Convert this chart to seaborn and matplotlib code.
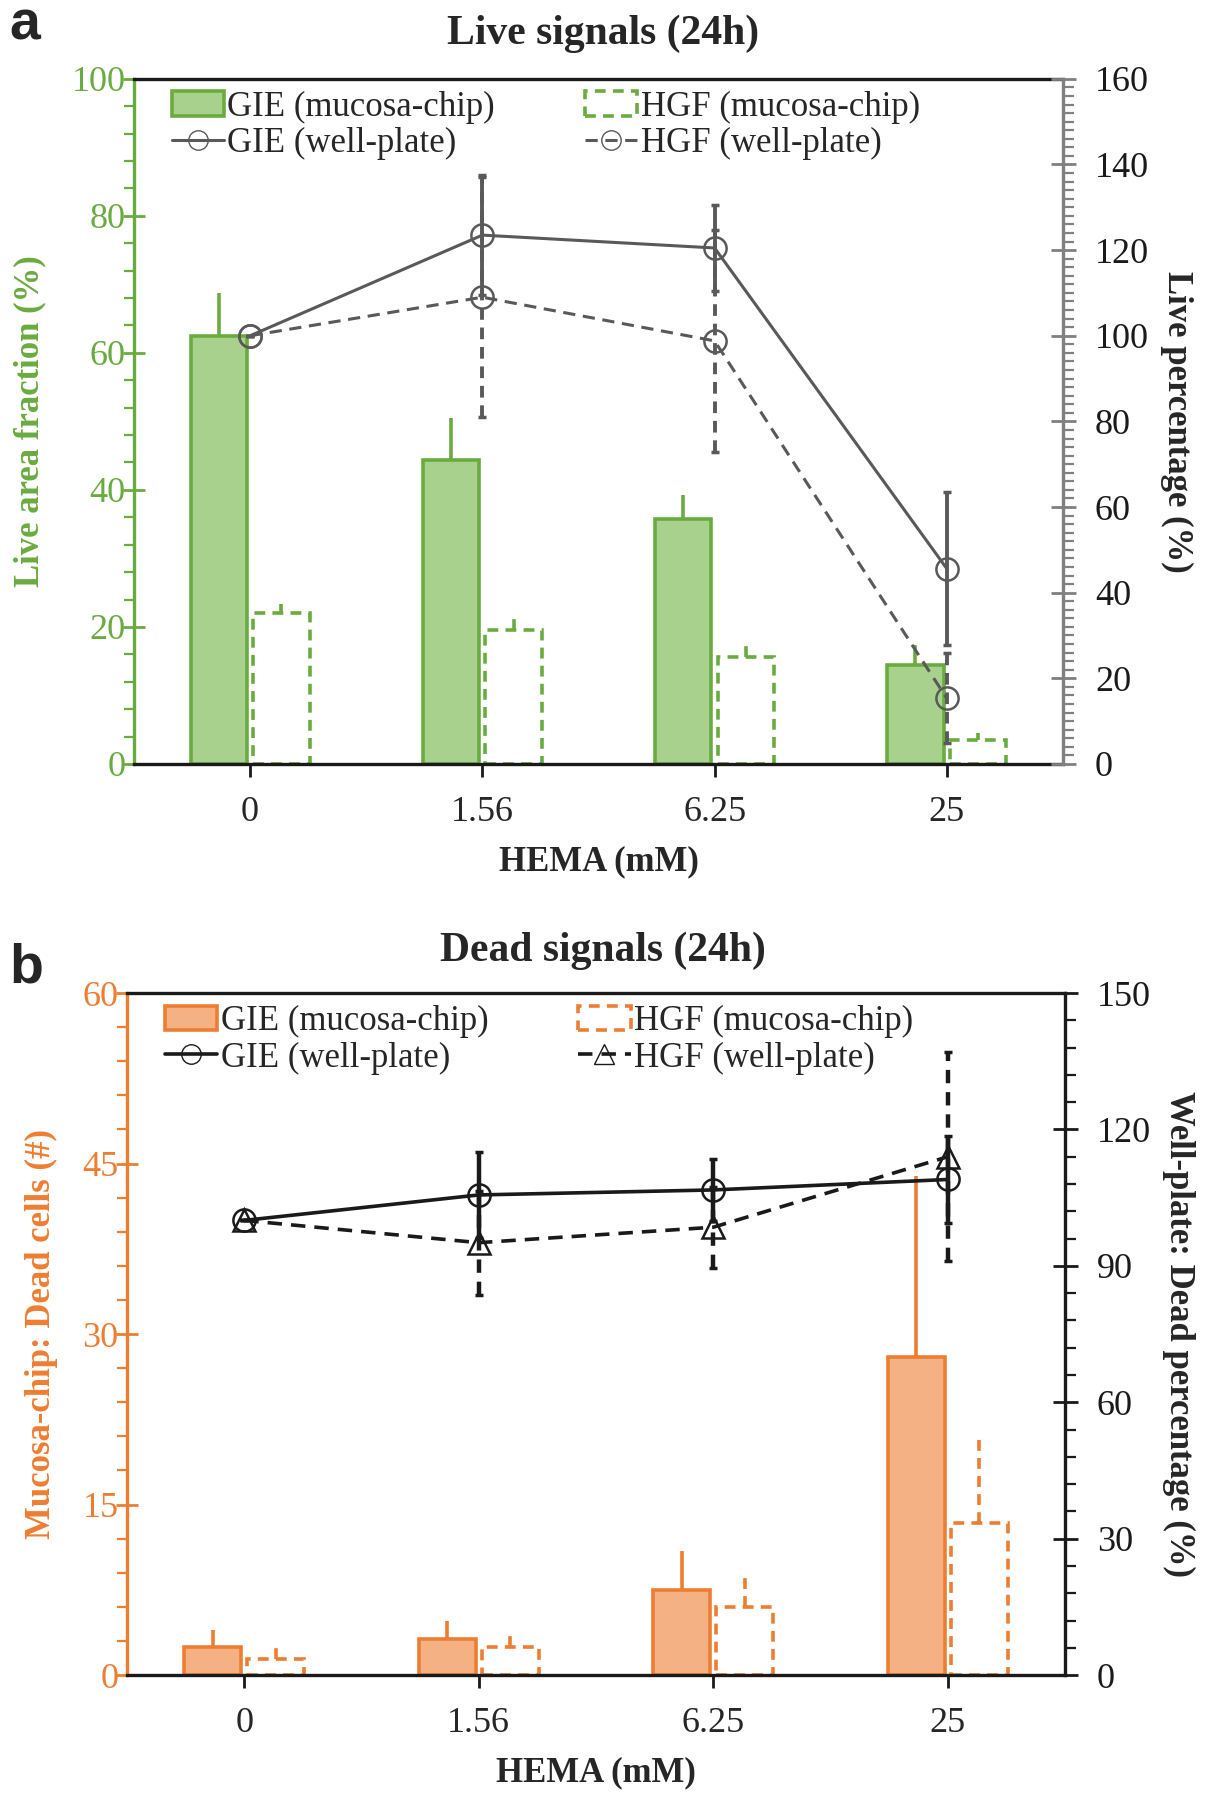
import numpy as np
import pandas as pd
import matplotlib
matplotlib.use("Agg")
import matplotlib.pyplot as plt
import matplotlib.patches as mpatches
from matplotlib.lines import Line2D
from matplotlib.ticker import MultipleLocator
import seaborn as sns

# data
conc = ["0", "1.56", "6.25", "25"]
cells = ["GIE", "HGF"]

# panel a: live signals
live_gie_chip = [62.4, 44.4, 35.7, 14.4]
live_gie_chip_err = [6.4, 6.1, 3.5, 3.0]
live_hgf_chip = [22.0, 19.5, 15.6, 3.5]
live_hgf_chip_err = [1.3, 1.6, 1.8, 1.0]
live_gie_well = [100, 123.5, 120.5, 45.6]
live_gie_well_err = [0, 14, 10, 17.8]
live_hgf_well = [100, 109, 98.8, 15.3]
live_hgf_well_err = [0, 28, 26, 10.5]

# panel b: dead signals
dead_gie_chip = [2.5, 3.2, 7.5, 28.0]
dead_gie_chip_err = [1.5, 1.6, 3.4, 15.9]
dead_hgf_chip = [1.45, 2.5, 6.0, 13.4]
dead_hgf_chip_err = [1.15, 1.2, 2.9, 7.6]
dead_gie_well = [100, 105.6, 106.7, 109.0]
dead_gie_well_err = [0, 9.5, 6.8, 9.5]
dead_hgf_well = [100, 95.1, 98.5, 114.0]
dead_hgf_well_err = [0, 11.4, 8.9, 23.0]

GREEN_EDGE = "#6aab3f"
GREEN_FILL = "#a9d18e"
ORANGE_EDGE = "#ed7d31"
ORANGE_FILL = "#f4b183"
GRAY = "#595959"
GRAY_AX = "#808080"
BLACK = "#1a1a1a"

sns.set_style("ticks")
plt.rcParams["font.family"] = ["Liberation Serif", "DejaVu Serif"]

TICK_FS = 26
LAB_FS = 25


def make_panel(fig, rect, gie, gie_e, hgf, hgf_e, gw, gw_e, hw, hw_e,
               edge, fill, line_col, right_col, ylim_l, ylim_r, maj_l, min_l,
               maj_r, min_r, ylab_l, ylab_r, hgf_marker, line_w):
    ax = fig.add_axes(rect)
    df = pd.DataFrame({
        "conc": conc * 2,
        "cell": ["GIE"] * 4 + ["HGF"] * 4,
        "value": list(gie) + list(hgf),
    })
    sns.barplot(data=df, x="conc", y="value", hue="cell", order=conc,
                hue_order=cells, width=0.54, gap=0.1, errorbar=None,
                legend=False, ax=ax)
    errs = [gie_e, hgf_e]
    bar_conts = list(ax.containers)
    for i, cont in enumerate(bar_conts):
        xs = []
        ys = []
        for p in cont.patches:
            p.set_edgecolor(edge)
            p.set_linewidth(2.6)
            if i == 0:
                p.set_facecolor(fill)
                p.set_linestyle("-")
            else:
                p.set_facecolor("white")
                p.set_linestyle((0, (3, 2)))
            xs.append(p.get_x() + p.get_width() / 2)
            ys.append(p.get_height())
        eb = ax.errorbar(xs, ys, yerr=[np.zeros(4), errs[i]], fmt="none",
                         ecolor=edge, elinewidth=2.6, capsize=0)
        if i == 1:
            eb.lines[2][0].set_linestyle((0, (3, 2)))

    ax.set_xlim(-0.5, 3.5)
    ax.set_ylim(*ylim_l)
    ax.yaxis.set_major_locator(MultipleLocator(maj_l))
    ax.yaxis.set_minor_locator(MultipleLocator(min_l))
    ax.tick_params(axis="y", which="major", direction="inout", length=16,
                   width=2, color=edge, labelcolor=edge, labelsize=TICK_FS, pad=-2)
    ax.tick_params(axis="y", which="minor", direction="out", length=7,
                   width=1.6, color=edge)
    ax.tick_params(axis="x", which="major", direction="out", length=9,
                   width=2, color=BLACK, labelsize=TICK_FS, pad=14)
    ax.spines["left"].set_color(edge)
    ax.spines["left"].set_linewidth(2.4)
    ax.spines["bottom"].set_color(BLACK)
    ax.spines["bottom"].set_linewidth(2.4)
    ax.spines["top"].set_visible(True)
    ax.spines["top"].set_color(BLACK)
    ax.spines["top"].set_linewidth(2.4)
    ax.spines["right"].set_visible(False)
    ax.set_xlabel("HEMA (mM)", fontsize=LAB_FS, fontweight="bold", labelpad=12)
    ax.set_ylabel(ylab_l, fontsize=LAB_FS, fontweight="bold", color=edge,
                  labelpad=18)

    ax2 = ax.twinx()
    pos = np.arange(len(conc))
    sns.lineplot(x=pos, y=gw, ax=ax2, color=line_col, linewidth=line_w,
                 marker="o", markersize=16, markerfacecolor="none",
                 markeredgecolor=line_col, markeredgewidth=1.8)
    sns.lineplot(x=pos, y=hw, ax=ax2, color=line_col, linewidth=line_w,
                 linestyle=(0, (4, 2.5)), marker=hgf_marker, markersize=16,
                 markerfacecolor="none", markeredgecolor=line_col,
                 markeredgewidth=1.8)
    ax2.errorbar(pos, gw, yerr=gw_e, fmt="none", ecolor=line_col,
                 elinewidth=line_w + 0.6, capsize=3, capthick=2.5)
    eb2 = ax2.errorbar(pos, hw, yerr=hw_e, fmt="none", ecolor=line_col,
                       elinewidth=line_w + 0.6, capsize=3, capthick=2.5)
    eb2.lines[2][0].set_linestyle((0, (3, 2)))
    ax2.set_ylim(*ylim_r)
    ax2.yaxis.set_major_locator(MultipleLocator(maj_r))
    ax2.yaxis.set_minor_locator(MultipleLocator(min_r))
    ax2.tick_params(axis="y", which="major", direction="inout", length=18,
                    width=2, color=right_col, labelcolor=BLACK,
                    labelsize=TICK_FS, pad=14)
    ax2.tick_params(axis="y", which="minor", direction="out", length=8,
                    width=1.6, color=right_col)
    for s in ["left", "top", "bottom"]:
        ax2.spines[s].set_visible(False)
    ax2.spines["right"].set_visible(True)
    ax2.spines["right"].set_color(right_col)
    ax2.spines["right"].set_linewidth(2.4)
    ax2.set_ylabel(ylab_r, fontsize=LAB_FS, fontweight="bold", rotation=270,
                   va="bottom", labelpad=8)
    if ax2.get_legend() is not None:
        ax2.get_legend().remove()

    handles = [
        mpatches.Patch(facecolor=fill, edgecolor=edge, linewidth=2.6,
                       label="GIE (mucosa-chip)"),
        Line2D([], [], color=line_col, linewidth=line_w, marker="o",
               markersize=14, markerfacecolor="none",
               markeredgecolor=line_col, label="GIE (well-plate)"),
        mpatches.Patch(facecolor="white", edgecolor=edge, linewidth=2.6,
                       linestyle=(0, (3, 2)), label="HGF (mucosa-chip)"),
        Line2D([], [], color=line_col, linewidth=line_w,
               linestyle=(0, (4, 2.5)), marker=hgf_marker, markersize=14,
               markerfacecolor="none", markeredgecolor=line_col,
               label="HGF (well-plate)"),
    ]
    ax2.legend(handles=handles, ncol=2, loc="upper left",
               bbox_to_anchor=(0.022, 1.008), frameon=False, fontsize=LAB_FS,
               handlelength=1.5, handletextpad=0.1, columnspacing=2.6,
               labelspacing=0.1, borderaxespad=0.1)
    return ax, ax2


fig = plt.figure(figsize=(12.06, 18), dpi=100)

make_panel(fig, [0.1111, 0.5756, 0.7703, 0.3806],
           live_gie_chip, live_gie_chip_err, live_hgf_chip, live_hgf_chip_err,
           live_gie_well, live_gie_well_err, live_hgf_well, live_hgf_well_err,
           GREEN_EDGE, GREEN_FILL, GRAY, GRAY_AX, (0, 100), (0, 160),
           20, 4, 20, 2, "Live area fraction (%)", "Live percentage (%)",
           "o", 2.2)

make_panel(fig, [0.1053, 0.0694, 0.7778, 0.3789],
           dead_gie_chip, dead_gie_chip_err, dead_hgf_chip, dead_hgf_chip_err,
           dead_gie_well, dead_gie_well_err, dead_hgf_well, dead_hgf_well_err,
           ORANGE_EDGE, ORANGE_FILL, BLACK, BLACK, (0, 60), (0, 150),
           15, 3, 30, 6, "Mucosa-chip: Dead cells (#)",
           "Well-plate: Dead percentage (%)", "^", 2.6)

fig.text(0.5, 0.981, "Live signals (24h)", ha="center", va="center",
         fontsize=30, fontweight="bold")
fig.text(0.5, 0.472, "Dead signals (24h)", ha="center", va="center",
         fontsize=30, fontweight="bold")
fig.text(0.008, 0.986, "a", ha="left", va="center", fontsize=40,
         fontweight="bold", family=["Liberation Sans", "DejaVu Sans"])
fig.text(0.008, 0.462, "b", ha="left", va="center", fontsize=40,
         fontweight="bold", family=["Liberation Sans", "DejaVu Sans"])

fig.savefig("out.png", dpi=100)
